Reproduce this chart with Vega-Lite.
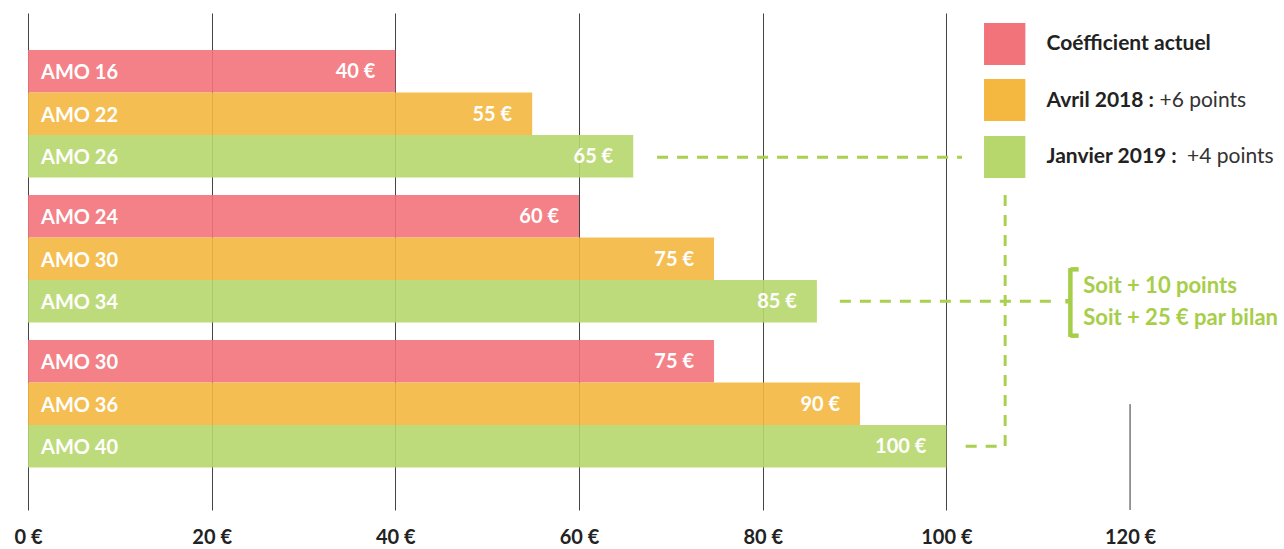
{
  "$schema": "https://vega.github.io/schema/vega-lite/v6.json",
  "width": 1249,
  "height": 497,
  "autosize": "none",
  "padding": {"left": 28, "top": 13, "right": 7, "bottom": 39},
  "config": {"view": {"stroke": null}, "font": "Lato"},
  "layer": [
    {
      "data": {"values": [
        {"group": "g1", "series": "Coéfficient actuel", "label": "AMO 16", "length": 40, "text": "40 €"},
        {"group": "g1", "series": "Avril 2018", "label": "AMO 22", "length": 54.9, "text": "55 €"},
        {"group": "g1", "series": "Janvier 2019", "label": "AMO 26", "length": 65.9, "text": "65 €"},
        {"group": "g2", "series": "Coéfficient actuel", "label": "AMO 24", "length": 60, "text": "60 €"},
        {"group": "g2", "series": "Avril 2018", "label": "AMO 30", "length": 74.7, "text": "75 €"},
        {"group": "g2", "series": "Janvier 2019", "label": "AMO 34", "length": 85.9, "text": "85 €"},
        {"group": "g3", "series": "Coéfficient actuel", "label": "AMO 30", "length": 74.7, "text": "75 €"},
        {"group": "g3", "series": "Avril 2018", "label": "AMO 36", "length": 90.6, "text": "90 €"},
        {"group": "g3", "series": "Janvier 2019", "label": "AMO 40", "length": 100, "text": "100 €"}
      ]},
      "encoding": {
        "y": {"field": "group", "type": "nominal", "axis": null,
              "scale": {"domain": ["g1", "g2", "g3"], "paddingInner": 0.1207, "paddingOuter": 0.274, "align": 0.465}},
        "yOffset": {"field": "series", "type": "nominal",
              "scale": {"domain": ["Coéfficient actuel", "Avril 2018", "Janvier 2019"], "paddingInner": 0, "paddingOuter": 0}}
      },
      "layer": [
        {
          "mark": {"type": "bar", "opacity": 0.9},
          "encoding": {
            "x": {"field": "length", "type": "quantitative",
                  "scale": {"domain": [0, 136], "nice": false, "zero": true},
                  "axis": {"values": [0, 20, 40, 60, 80, 100, 120], "labelExpr": "datum.value + ' €'",
                           "domain": false, "ticks": false, "labelPadding": 17, "labelFontSize": 20,
                           "labelFont": "Lato", "labelFontWeight": "bold", "labelColor": "#222",
                           "labelFlush": false, "labelBound": false, "title": null,
                           "grid": true, "gridColor": "#444", "gridWidth": 1,
                           "gridOpacity": {"condition": {"test": "datum.value === 120", "value": 0}, "value": 1}}},
            "color": {"field": "series", "type": "nominal", "legend": null,
                      "scale": {"domain": ["Coéfficient actuel", "Avril 2018", "Janvier 2019"],
                                "range": ["#F2737A", "#F4B73F", "#B7D76D"]}}
          }
        },
        {
          "mark": {"type": "text", "align": "left", "dx": 13, "dy": 2, "font": "Lato", "fontWeight": "bold", "fontSize": 20, "color": "white"},
          "encoding": {
            "x": {"datum": 0, "type": "quantitative", "title": null},
            "text": {"field": "label"}
          }
        },
        {
          "mark": {"type": "text", "align": "right", "dx": -20, "dy": 1, "font": "Lato", "fontWeight": "bold", "fontSize": 20, "color": "white"},
          "encoding": {
            "x": {"field": "length", "type": "quantitative", "title": null},
            "text": {"field": "text"}
          }
        }
      ]
    },
    {
      "data": {"values": [
        {"kind": "grid", "x": 120, "x2": 120, "r": 9.2, "r2": 11.69}
      ]},
      "mark": {"type": "rule", "color": "#333", "strokeWidth": 1},
      "encoding": {
        "x": {"field": "x", "type": "quantitative", "title": null},
        "y": {"field": "r", "type": "quantitative", "axis": null, "scale": {"domain": [0, 11.69], "reverse": true, "nice": false, "zero": false}},
        "y2": {"field": "r2"}
      }
    },
    {
      "data": {"values": [
        {"series": "Coéfficient actuel", "x": 104.1, "x2": 108.6, "r": 0.235, "r2": 1.224},
        {"series": "Avril 2018", "x": 104.1, "x2": 108.6, "r": 1.553, "r2": 2.541},
        {"series": "Janvier 2019", "x": 104.1, "x2": 108.6, "r": 2.894, "r2": 3.882}
      ]},
      "mark": {"type": "rect"},
      "encoding": {
        "x": {"field": "x", "type": "quantitative", "title": null},
        "x2": {"field": "x2"},
        "y": {"field": "r", "type": "quantitative", "axis": null, "scale": {"domain": [0, 11.69], "reverse": true, "nice": false, "zero": false}},
        "y2": {"field": "r2"},
        "color": {"field": "series", "type": "nominal", "legend": null,
                  "scale": {"domain": ["Coéfficient actuel", "Avril 2018", "Janvier 2019"],
                            "range": ["#F2737A", "#F4B73F", "#B7D76D"]}},
        "opacity": {"value": 1}
      }
    },
    {
      "data": {"values": [
        {"t": "Coéfficient actuel", "x": 110.9, "r": 0.73, "w": "bold"},
        {"t": "Avril 2018 :", "x": 110.9, "r": 2.07, "w": "bold"},
        {"t": "Janvier 2019 :", "x": 110.9, "r": 3.39, "w": "bold"},
        {"t": "+6 points", "x": 123.2, "r": 2.07, "w": "normal"},
        {"t": "+4 points", "x": 126.2, "r": 3.39, "w": "normal"}
      ]},
      "layer": [
        {
          "transform": [{"filter": "datum.w === 'bold'"}],
          "mark": {"type": "text", "align": "left", "font": "Lato", "fontWeight": "bold", "fontSize": 21, "color": "#222"},
          "encoding": {
            "x": {"field": "x", "type": "quantitative", "title": null},
            "y": {"field": "r", "type": "quantitative", "axis": null, "scale": {"domain": [0, 11.69], "reverse": true, "nice": false, "zero": false}},
            "text": {"field": "t"}
          }
        },
        {
          "transform": [{"filter": "datum.w === 'normal'"}],
          "mark": {"type": "text", "align": "left", "font": "Lato", "fontWeight": "normal", "fontSize": 21, "color": "#333"},
          "encoding": {
            "x": {"field": "x", "type": "quantitative", "title": null},
            "y": {"field": "r", "type": "quantitative", "axis": null, "scale": {"domain": [0, 11.69], "reverse": true, "nice": false, "zero": false}},
            "text": {"field": "t"}
          }
        }
      ]
    },
    {
      "data": {"values": [
        {"x": 68.5, "x2": 101.7, "r": 3.39, "r2": 3.39},
        {"x": 88.4, "x2": 111.8, "r": 6.78, "r2": 6.78},
        {"x": 102.1, "x2": 106.4, "r": 10.19, "r2": 10.19},
        {"x": 106.4, "x2": 106.4, "r": 4.28, "r2": 10.19}
      ]},
      "mark": {"type": "rule", "color": "#A9D04F", "strokeWidth": 3, "strokeDash": [11, 9]},
      "encoding": {
        "x": {"field": "x", "type": "quantitative", "title": null},
        "x2": {"field": "x2"},
        "y": {"field": "r", "type": "quantitative", "axis": null, "scale": {"domain": [0, 11.69], "reverse": true, "nice": false, "zero": false}},
        "y2": {"field": "r2"}
      }
    },
    {
      "data": {"values": [
        {"x": 113.5, "x2": 113.5, "r": 6.0, "r2": 7.62},
        {"x": 113.5, "x2": 114.4, "r": 6.03, "r2": 6.03},
        {"x": 113.5, "x2": 114.4, "r": 7.59, "r2": 7.59},
        {"x": 112.95, "x2": 113.5, "r": 6.78, "r2": 6.78}
      ]},
      "mark": {"type": "rule", "color": "#A6CE48", "strokeWidth": 4.5},
      "encoding": {
        "x": {"field": "x", "type": "quantitative", "title": null},
        "x2": {"field": "x2"},
        "y": {"field": "r", "type": "quantitative", "axis": null, "scale": {"domain": [0, 11.69], "reverse": true, "nice": false, "zero": false}},
        "y2": {"field": "r2"}
      }
    },
    {
      "data": {"values": [
        {"t": "Soit + 10 points", "x": 114.9, "r": 6.42},
        {"t": "Soit + 25 € par bilan", "x": 114.9, "r": 7.18}
      ]},
      "mark": {"type": "text", "align": "left", "font": "Lato", "fontWeight": "bold", "fontSize": 22, "color": "#A6CE48"},
      "encoding": {
        "x": {"field": "x", "type": "quantitative", "title": null},
        "y": {"field": "r", "type": "quantitative", "axis": null, "scale": {"domain": [0, 11.69], "reverse": true, "nice": false, "zero": false}},
        "text": {"field": "t"}
      }
    }
  ],
  "resolve": {"scale": {"y": "independent"}}
}
